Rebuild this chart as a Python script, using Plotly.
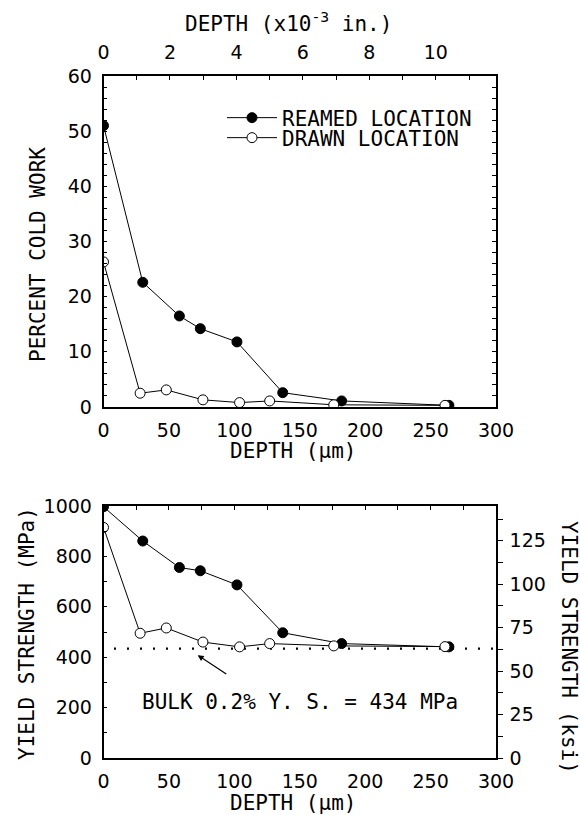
import plotly.graph_objects as go

# ---------------- data ----------------
depth_reamed = [0, 30, 58, 74, 102, 137, 182, 264]
depth_drawn = [0, 28, 48, 76, 104, 127, 176, 261]
cold_work_reamed = [51.0, 22.6, 16.5, 14.2, 11.8, 2.6, 1.1, 0.3]
cold_work_drawn = [26.3, 2.5, 3.1, 1.3, 0.8, 1.1, 0.4, 0.3]
ys_reamed = [997, 861, 756, 743, 687, 497, 454, 441]
ys_drawn = [915, 495, 516, 460, 441, 454, 445, 442]
bulk_ys = 434
bulk_line_depth = [8, 300]
depth_ticks = [0, 50, 100, 150, 200, 250, 300]
inch_ticks = [0, 2, 4, 6, 8, 10]
cw_ticks = [0, 10, 20, 30, 40, 50, 60]
mpa_ticks = [0, 200, 400, 600, 800, 1000]
ksi_ticks = [0, 25, 50, 75, 100, 125]

W, H = 580, 815
MONO = "DejaVu Sans Mono"
SANS = "DejaVu Sans"
TICKFONT = dict(family=SANS, size=19, color="black")


def px(x):
    return x / W


def py(y):
    return 1 - y / H


XD = [px(103.5), px(496)]
Y_TOP = [py(407), py(76)]
Y_BOT = [py(758), py(506)]

fig = go.Figure()

line = dict(color="black", width=1)
filled = dict(size=10, color="black", line=dict(color="black", width=1))
opened = dict(size=10, color="white", line=dict(color="black", width=1))

# top chart
fig.add_trace(go.Scatter(x=depth_reamed, y=cold_work_reamed, mode="lines+markers",
                         line=line, marker=filled, name="REAMED LOCATION",
                         xaxis="x", yaxis="y", legend="legend"))
fig.add_trace(go.Scatter(x=depth_drawn, y=cold_work_drawn, mode="lines+markers",
                         line=line, marker=opened, name="DRAWN LOCATION",
                         xaxis="x", yaxis="y", legend="legend2"))
fig.add_trace(go.Scatter(x=[None], y=[None], xaxis="x2", yaxis="y2",
                         showlegend=False, hoverinfo="skip"))

# bottom chart
fig.add_trace(go.Scatter(x=bulk_line_depth, y=[bulk_ys, bulk_ys], mode="lines",
                         line=dict(color="black", width=2.2, dash="2px,11px"),
                         xaxis="x3", yaxis="y3", showlegend=False))
fig.add_trace(go.Scatter(x=depth_reamed, y=ys_reamed, mode="lines+markers",
                         line=line, marker=filled, showlegend=False,
                         xaxis="x3", yaxis="y3"))
fig.add_trace(go.Scatter(x=depth_drawn, y=ys_drawn, mode="lines+markers",
                         line=line, marker=opened, showlegend=False,
                         xaxis="x3", yaxis="y3"))
fig.add_trace(go.Scatter(x=[None], y=[None], xaxis="x4", yaxis="y4",
                         showlegend=False, hoverinfo="skip"))

axline = dict(showline=True, linecolor="black", linewidth=1.5, showgrid=False,
              zeroline=False, tickcolor="black", automargin=False)

fig.update_layout(
    width=W, height=H,
    margin=dict(l=0, r=0, t=0, b=0, autoexpand=False),
    paper_bgcolor="white", plot_bgcolor="white",
    showlegend=True,
    xaxis=dict(domain=XD, anchor="y", range=[0, 300], tickvals=depth_ticks,
               ticks="", tickfont=TICKFONT, ticklabelstandoff=5, **axline),
    yaxis=dict(domain=Y_TOP, anchor="x", range=[0, 60], tickvals=cw_ticks,
               ticks="inside", ticklen=4, tickwidth=1,
               minor=dict(dtick=2, ticks="inside", ticklen=4, tickcolor="black"),
               tickfont=TICKFONT, ticklabelstandoff=6, **axline),
    xaxis2=dict(overlaying="x", side="top", anchor="y", range=[0, 300 / 25.4],
                tickvals=inch_ticks, ticks="inside", ticklen=4,
                minor=dict(dtick=1, ticks="inside", ticklen=4, tickcolor="black"),
                tickfont=TICKFONT, ticklabelstandoff=8, **axline),
    yaxis2=dict(overlaying="y", side="right", anchor="x", range=[0, 60],
                tickvals=cw_ticks, ticks="inside", ticklen=4, showticklabels=False,
                minor=dict(dtick=2, ticks="inside", ticklen=4, tickcolor="black"),
                **axline),
    xaxis3=dict(domain=XD, anchor="y3", range=[0, 300], tickvals=depth_ticks,
                ticks="", tickfont=TICKFONT, ticklabelstandoff=5, **axline),
    yaxis3=dict(domain=Y_BOT, anchor="x3", range=[0, 1000], tickvals=mpa_ticks,
                ticks="inside", ticklen=4,
                minor=dict(dtick=100, ticks="inside", ticklen=4, tickcolor="black"),
                tickfont=TICKFONT, ticklabelstandoff=6, **axline),
    xaxis4=dict(overlaying="x3", side="top", anchor="y3", range=[0, 300],
                tickvals=depth_ticks, ticks="inside", ticklen=4, showticklabels=False,
                minor=dict(dtick=25, ticks="inside", ticklen=4, tickcolor="black"),
                **axline),
    yaxis4=dict(overlaying="y3", side="right", anchor="x3", range=[0, 1000 / 6.89476],
                tickvals=ksi_ticks, ticks="outside", ticklen=5,
                minor=dict(dtick=12.5, ticks="outside", ticklen=5, tickcolor="black"),
                tickfont=TICKFONT, ticklabelstandoff=3, **axline),
    legend=dict(x=px(222), y=py(118), xanchor="left", yanchor="middle",
                bgcolor="rgba(0,0,0,0)", borderwidth=0, itemwidth=50,
                font=dict(family=MONO, size=21, color="black")),
    legend2=dict(x=px(222), y=py(138), xanchor="left", yanchor="middle",
                 bgcolor="rgba(0,0,0,0)", borderwidth=0, itemwidth=50,
                 font=dict(family=MONO, size=21, color="black")),
)

TITLEFONT = dict(family=MONO, size=21, color="black")
ann = [
    dict(text="DEPTH (x10<sup>-3</sup> in.)", x=px(288), y=py(22)),
    dict(text="DEPTH (\u00b5m)", x=px(293), y=py(451)),
    dict(text="DEPTH (\u00b5m)", x=px(293), y=py(803)),
    dict(text="PERCENT COLD WORK", x=px(38), y=py(255), textangle=-90),
    dict(text="YIELD STRENGTH (MPa)", x=px(27), y=py(634), textangle=-90),
    dict(text="YIELD STRENGTH (ksi)", x=px(569), y=py(647), textangle=90),
    dict(text="BULK 0.2% Y. S. = 434 MPa", x=px(300), y=py(702)),
]
for a in ann:
    fig.add_annotation(xref="paper", yref="paper", showarrow=False,
                       xanchor="center", yanchor="middle", font=TITLEFONT, **a)

fig.add_annotation(x=72, y=408, xref="x3", yref="y3", ax=95, ay=329,
                   axref="x3", ayref="y3", showarrow=True, arrowhead=2,
                   arrowsize=1, arrowwidth=1.2, arrowcolor="black", text="")

fig.write_html(
    "out.html",
    config={"displayModeBar": False},
    post_script="document.body.style.margin='0px';"
                "document.documentElement.style.overflow='hidden';",
)
